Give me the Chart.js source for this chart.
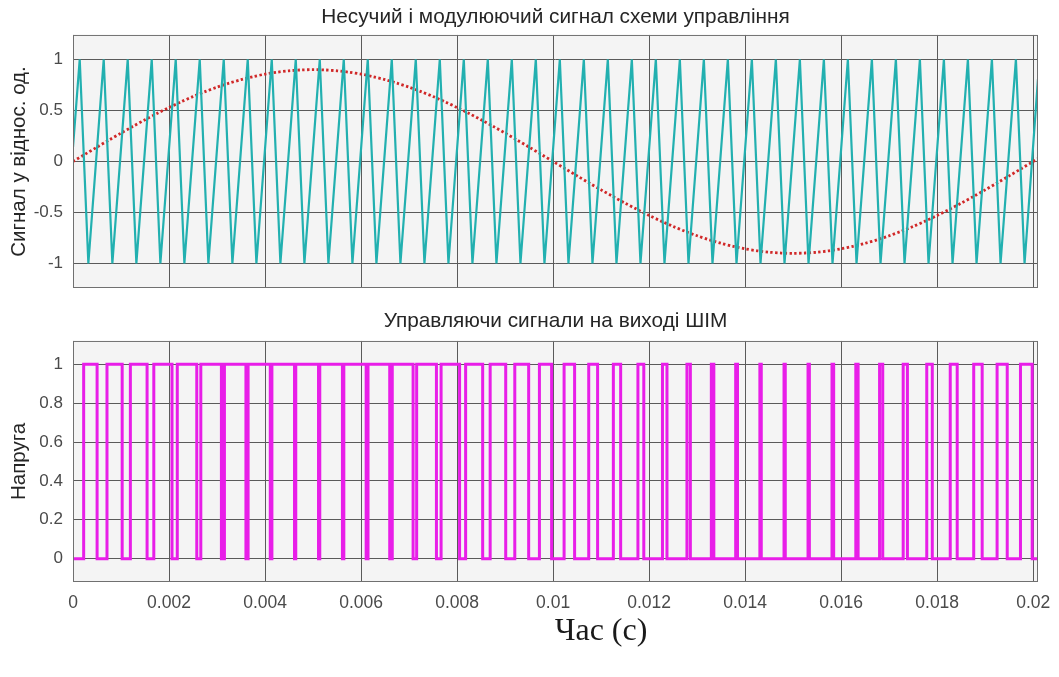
<!DOCTYPE html>
<html><head><meta charset="utf-8">
<script src="https://cdn.jsdelivr.net/npm/chart.js@4.4.1/dist/chart.umd.min.js"></script>
<style>
html,body{margin:0;padding:0;background:#fff;width:1059px;height:677px;overflow:hidden;position:relative;}
#c1{position:absolute;left:0;top:0;}
#c2{position:absolute;left:0;top:300px;}
#xlab{position:absolute;left:451px;width:300px;top:609px;text-align:center;font-family:'Liberation Serif','Times New Roman',serif;font-size:32px;color:#1a1a1a;line-height:40px;}
</style></head><body>
<canvas id="c1" width="1059" height="300"></canvas>
<canvas id="c2" width="1059" height="377"></canvas>
<div id="xlab">Час (с)</div>
<script>
// ---- data ----
const carrierTime = [0,0.00014,0.00032,0.00064,0.00082,0.00114,0.00132,0.00164,0.00182,0.00214,0.00232,0.00264,0.00282,0.00314,0.00332,0.00364,0.00382,0.00414,0.00432,0.00464,0.00482,0.00514,0.00532,0.00564,0.00582,0.00614,0.00632,0.00664,0.00682,0.00714,0.00732,0.00764,0.00782,0.00814,0.00832,0.00864,0.00882,0.00914,0.00932,0.00964,0.00982,0.01014,0.01032,0.01064,0.01082,0.01114,0.01132,0.01164,0.01182,0.01214,0.01232,0.01264,0.01282,0.01314,0.01332,0.01364,0.01382,0.01414,0.01432,0.01464,0.01482,0.01514,0.01532,0.01564,0.01582,0.01614,0.01632,0.01664,0.01682,0.01714,0.01732,0.01764,0.01782,0.01814,0.01832,0.01864,0.01882,0.01914,0.01932,0.01964,0.01982,0.0201];
const carrierLevel = [0.14,1,-1,1,-1,1,-1,1,-1,1,-1,1,-1,1,-1,1,-1,1,-1,1,-1,1,-1,1,-1,1,-1,1,-1,1,-1,1,-1,1,-1,1,-1,1,-1,1,-1,1,-1,1,-1,1,-1,1,-1,1,-1,1,-1,1,-1,1,-1,1,-1,1,-1,1,-1,1,-1,1,-1,1,-1,1,-1,1,-1,1,-1,1,-1,1,-1,1,-1,0.81];
const sineTime = [0,0.00025,0.0005,0.00075,0.001,0.00125,0.0015,0.00175,0.002,0.00225,0.0025,0.00275,0.003,0.00325,0.0035,0.00375,0.004,0.00425,0.0045,0.00475,0.005,0.00525,0.0055,0.00575,0.006,0.00625,0.0065,0.00675,0.007,0.00725,0.0075,0.00775,0.008,0.00825,0.0085,0.00875,0.009,0.00925,0.0095,0.00975,0.01,0.01025,0.0105,0.01075,0.011,0.01125,0.0115,0.01175,0.012,0.01225,0.0125,0.01275,0.013,0.01325,0.0135,0.01375,0.014,0.01425,0.0145,0.01475,0.015,0.01525,0.0155,0.01575,0.016,0.01625,0.0165,0.01675,0.017,0.01725,0.0175,0.01775,0.018,0.01825,0.0185,0.01875,0.019,0.01925,0.0195,0.01975,0.02,0.0201];
const sineLevel = [0,0.0706,0.1408,0.2101,0.2781,0.3444,0.4086,0.4702,0.529,0.5845,0.6364,0.6844,0.7281,0.7674,0.8019,0.8315,0.856,0.8751,0.8889,0.8972,0.9,0.8972,0.8889,0.8751,0.856,0.8315,0.8019,0.7674,0.7281,0.6844,0.6364,0.5845,0.529,0.4702,0.4086,0.3444,0.2781,0.2101,0.1408,0.0706,0,-0.0706,-0.1408,-0.2101,-0.2781,-0.3444,-0.4086,-0.4702,-0.529,-0.5845,-0.6364,-0.6844,-0.7281,-0.7674,-0.8019,-0.8315,-0.856,-0.8751,-0.8889,-0.8972,-0.9,-0.8972,-0.8889,-0.8751,-0.856,-0.8315,-0.8019,-0.7674,-0.7281,-0.6844,-0.6364,-0.5845,-0.529,-0.4702,-0.4086,-0.3444,-0.2781,-0.2101,-0.1408,-0.0706,0,0.0283];
const pwmTime = [0,0.000222,0.000502,0.000708,0.001024,0.001195,0.001543,0.001683,0.002062,0.002172,0.002578,0.002662,0.003091,0.003154,0.003602,0.003647,0.004109,0.004143,0.004614,0.00464,0.005114,0.00514,0.005612,0.005641,0.006106,0.006145,0.006597,0.00665,0.007084,0.007158,0.00757,0.007667,0.008052,0.008178,0.008533,0.008689,0.009013,0.009202,0.009491,0.009715,0.009969,0.010229,0.010448,0.010742,0.010927,0.011255,0.011407,0.011767,0.011889,0.012278,0.012372,0.012788,0.012859,0.013296,0.013348,0.013803,0.013841,0.014307,0.014336,0.01481,0.014836,0.01531,0.015338,0.015809,0.015844,0.016305,0.016353,0.0168,0.016866,0.017292,0.01738,0.017783,0.017898,0.018272,0.018417,0.018761,0.018937,0.019248,0.019459,0.019735,0.019979,0.0201];
const pwmLevel = [0,1,0,1,0,1,0,1,0,1,0,1,0,1,0,1,0,1,0,1,0,1,0,1,0,1,0,1,0,1,0,1,0,1,0,1,0,1,0,1,0,1,0,1,0,1,0,1,0,1,0,1,0,1,0,1,0,1,0,1,0,1,0,1,0,1,0,1,0,1,0,1,0,1,0,1,0,1,0,1,0,0];
const xTickValues = [0,0.002,0.004,0.006,0.008,0.01,0.012,0.014,0.016,0.018,0.02];
const xTickLabels = ['0','0.002','0.004','0.006','0.008','0.01','0.012','0.014','0.016','0.018','0.02'];
const yTopTicks = [-1,-0.5,0,0.5,1];
const yTopLabels = ['-1','-0.5','0','0.5','1'];
const yBotTicks = [0,0.2,0.4,0.6,0.8,1];
const yBotLabels = ['0','0.2','0.4','0.6','0.8','1'];
const topTitle = 'Несучий і модулюючий сигнал схеми управління';
const botTitle = 'Управляючи сигнали на виході ШІМ';
const topYTitle = 'Сигнал у віднос. од.';
const botYTitle = 'Напруга';

// ---- rendering ----
const SANS = "'Liberation Sans', Arial, Helvetica, sans-serif";
const GRID = '#5a5a5a';
const TICKC = '#4a4a4a';
const frame = {
  id: 'frame',
  beforeDraw(chart) {
    const {ctx, chartArea: a} = chart;
    ctx.save(); ctx.fillStyle = '#f4f4f4';
    ctx.fillRect(a.left, a.top, a.right - a.left, a.bottom - a.top); ctx.restore();
  },
  afterDraw(chart) {
    const {ctx, chartArea: a} = chart;
    ctx.save(); ctx.strokeStyle = '#707070'; ctx.lineWidth = 1;
    ctx.strokeRect(a.left + 0.5, a.top + 0.5, a.right - a.left - 1, a.bottom - a.top - 1); ctx.restore();
  }
};
function pts(xs, ys) { return xs.map((x, i) => ({x: x, y: ys[i]})); }
function fix(prop, val) { return s => { s[prop] = val; s.paddingTop = 0; s.paddingBottom = 0; s.paddingLeft = 0; s.paddingRight = 0; }; }
function setTicks(vals) { return s => { s.ticks = vals.map(v => ({value: v})); }; }

function xScale(showLabels, h) {
  return {
    type: 'linear', min: 0, max: 0.0201, bounds: 'data',
    afterBuildTicks: setTicks(xTickValues),
    ticks: {display: showLabels, autoSkip: false, maxRotation: 0, padding: 10.5,
      callback: (v, i) => xTickLabels[i], font: {family: SANS, size: 17.5}, color: TICKC},
    grid: {color: GRID, lineWidth: 1, drawTicks: false},
    border: {display: false},
    afterFit: fix('height', h)
  };
}
function yScale(min, max, vals, labels, title) {
  return {
    type: 'linear', min: min, max: max, bounds: 'data',
    afterBuildTicks: setTicks(vals),
    ticks: {autoSkip: false, padding: 10, callback: (v, i) => labels[i], font: {family: SANS, size: 17}, color: TICKC},
    grid: {color: GRID, lineWidth: 1, drawTicks: false},
    border: {display: false},
    title: {display: true, text: title, font: {family: SANS, size: 20.5}, color: '#262626', padding: {top: 7, bottom: 0}},
    afterFit: fix('width', 73)
  };
}
function titleOpts(text, pt, pb) {
  return {display: true, fullSize: false, text: text, font: {family: SANS, size: 20.8, weight: 'normal'}, color: '#262626', padding: {top: pt, bottom: pb}};
}

new Chart(document.getElementById('c1'), {
  type: 'line',
  data: {datasets: [
    {data: pts(carrierTime, carrierLevel), borderColor: '#22b0b0', borderWidth: 2.2, pointRadius: 0, tension: 0},
    {data: pts(sineTime, sineLevel), borderColor: '#d02828', borderWidth: 2.8, borderDash: [2.4, 2.4], pointRadius: 0, tension: 0.3}
  ]},
  options: {
    responsive: false, animation: false, parsing: false,
    layout: {padding: {left: 0, right: 21, top: 0, bottom: 0}},
    plugins: {legend: {display: false}, tooltip: {enabled: false}, title: titleOpts(topTitle, 4.5, 5.5)},
    scales: {x: xScale(false, 12), y: yScale(-1.24, 1.24, yTopTicks, yTopLabels, topYTitle)}
  },
  plugins: [frame]
});

new Chart(document.getElementById('c2'), {
  type: 'line',
  data: {datasets: [
    {data: pts(pwmTime, pwmLevel), borderColor: '#e81ee8', borderWidth: 3, pointRadius: 0, stepped: true}
  ]},
  options: {
    responsive: false, animation: false, parsing: false,
    layout: {padding: {left: 0, right: 21, top: 0, bottom: 0}},
    plugins: {legend: {display: false}, tooltip: {enabled: false}, title: titleOpts(botTitle, 8.5, 7.5)},
    scales: {x: xScale(true, 95), y: yScale(-0.12, 1.12, yBotTicks, yBotLabels, botYTitle)}
  },
  plugins: [frame]
});
</script>
</body></html>
